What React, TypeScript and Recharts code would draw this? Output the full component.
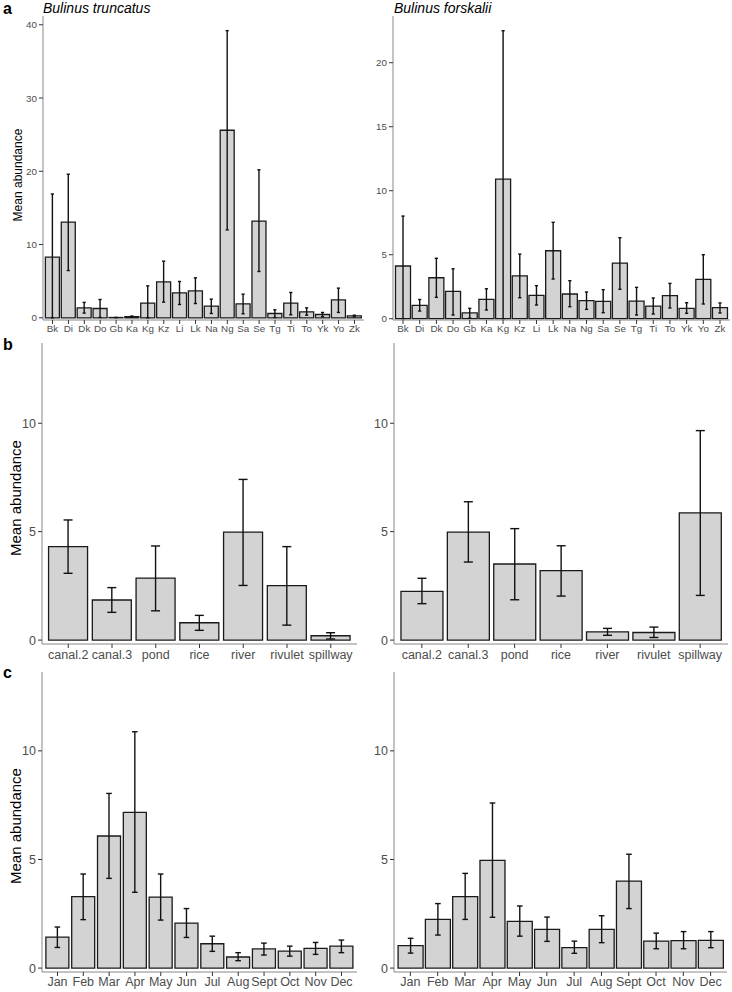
import { Bar, BarChart, ErrorBar, XAxis, YAxis } from "recharts"

// panel a: sampling sites
const sites = ["Bk", "Di", "Dk", "Do", "Gb", "Ka", "Kg", "Kz", "Li", "Lk", "Na", "Ng", "Sa", "Se", "Tg", "Ti", "To", "Yk", "Yo", "Zk"]
const truncSiteMean = [8.28, 13.05, 1.36, 1.27, 0.04, 0.16, 2.0, 4.9, 3.41, 3.68, 1.59, 25.6, 1.91, 13.2, 0.59, 2.0, 0.82, 0.45, 2.45, 0.27]
const truncSiteLow = [0, 6.45, 0.64, 0.05, 0.04, 0.1, 0, 2.14, 1.82, 1.95, 0.59, 12.0, 0.55, 6.32, 0.05, 0.41, 0.36, 0.14, 0.73, 0.14]
const truncSiteHigh = [16.9, 19.6, 2.1, 2.5, 0.04, 0.25, 4.36, 7.73, 4.96, 5.46, 2.55, 39.2, 3.23, 20.2, 1.09, 3.46, 1.36, 0.73, 4.05, 0.36]
const forskSiteMean = [4.12, 1.05, 3.2, 2.14, 0.45, 1.51, 10.9, 3.34, 1.83, 5.31, 1.93, 1.41, 1.36, 4.35, 1.38, 0.99, 1.8, 0.81, 3.08, 0.86]
const forskSiteLow = [0, 0.6, 1.67, 0.29, 0.05, 0.68, 0, 1.64, 1.07, 3.1, 0.94, 0.73, 0.47, 2.3, 0.29, 0.37, 0.84, 0.42, 1.15, 0.45]
const forskSiteHigh = [8.02, 1.5, 4.72, 3.9, 0.81, 2.34, 22.5, 5.05, 2.58, 7.53, 2.97, 2.09, 2.27, 6.33, 2.45, 1.62, 2.76, 1.25, 5.0, 1.23]

// panel b: habitat types
const habitats = ["canal.2", "canal.3", "pond", "rice", "river", "rivulet", "spillway"]
const truncHabMean = [4.31, 1.85, 2.86, 0.8, 4.98, 2.51, 0.2]
const truncHabLow = [3.08, 1.28, 1.35, 0.45, 2.52, 0.69, 0.05]
const truncHabHigh = [5.54, 2.42, 4.34, 1.14, 7.41, 4.31, 0.34]
const forskHabMean = [2.25, 4.98, 3.51, 3.2, 0.38, 0.35, 5.87]
const forskHabLow = [1.68, 3.6, 1.86, 2.03, 0.22, 0.12, 2.06]
const forskHabHigh = [2.85, 6.38, 5.14, 4.35, 0.54, 0.6, 9.66]

// panel c: months
const months = ["Jan", "Feb", "Mar", "Apr", "May", "Jun", "Jul", "Aug", "Sept", "Oct", "Nov", "Dec"]
const truncMonMean = [1.43, 3.29, 6.08, 7.17, 3.27, 2.07, 1.12, 0.51, 0.88, 0.78, 0.91, 1.01]
const truncMonLow = [0.95, 2.23, 4.13, 3.49, 2.21, 1.41, 0.77, 0.34, 0.6, 0.55, 0.63, 0.71]
const truncMonHigh = [1.89, 4.33, 8.04, 10.88, 4.33, 2.74, 1.47, 0.71, 1.15, 1.01, 1.18, 1.29]
const forskMonMean = [1.03, 2.24, 3.29, 4.96, 2.15, 1.78, 0.94, 1.78, 4.0, 1.24, 1.26, 1.28]
const forskMonLow = [0.69, 1.52, 2.24, 2.34, 1.47, 1.23, 0.68, 1.17, 2.74, 0.89, 0.89, 0.94]
const forskMonHigh = [1.37, 2.97, 4.36, 7.6, 2.86, 2.35, 1.24, 2.41, 5.24, 1.61, 1.68, 1.68]

const ticksA1 = [0, 10, 20, 30, 40]
const ticksA2 = [0, 5, 10, 15, 20]
const ticksBC = [0, 5, 10]

const FONT = "'Liberation Sans', Arial, sans-serif"
const BORDER = "#888888"

type Box = { l: number; t: number; r: number; b: number }

function Panel(props: {
  cats: string[]
  mean: number[]
  low: number[]
  high: number[]
  box: Box
  domain: [number, number]
  ticks: number[]
  yAxisW: number
  xAxisH: number
  fontSize: number
  cap: number
  tickMargin: number
}) {
  const { cats, mean, low, high, box, domain, ticks, yAxisW, xAxisH, fontSize, cap, tickMargin } = props
  const data = cats.map((name, i) => ({
    name,
    mean: mean[i],
    err: [mean[i] - low[i], high[i] - mean[i]],
  }))
  const mTop = 2
  const mRight = 2
  const plotW = box.r - box.l
  // ggplot discrete axis expansion (0.6 units each side)
  const pad = (plotW * 0.1) / (cats.length + 0.2)
  const tickStyle = { fontSize, fill: "#4d4d4d", fontFamily: FONT }
  return (
    <div
      style={{
        position: "absolute",
        left: box.l - yAxisW,
        top: box.t - mTop,
      }}
    >
      <BarChart
        width={plotW + yAxisW + mRight}
        height={box.b - box.t + mTop + xAxisH}
        data={data}
        margin={{ top: mTop, right: mRight, left: 0, bottom: 0 }}
        barCategoryGap="5%"
      >
        <XAxis
          dataKey="name"
          interval={0}
          height={xAxisH}
          padding={{ left: pad, right: pad }}
          tick={tickStyle}
          tickSize={4}
          tickMargin={tickMargin}
          tickLine={{ stroke: "#333333" }}
          axisLine={{ stroke: BORDER }}
        />
        <XAxis
          xAxisId="top"
          orientation="top"
          dataKey="name"
          height={0}
          tick={false}
          tickLine={false}
          axisLine={{ stroke: BORDER }}
        />
        <YAxis
          type="number"
          domain={domain}
          ticks={ticks}
          allowDataOverflow
          width={yAxisW}
          tick={tickStyle}
          tickSize={4}
          tickMargin={2}
          tickLine={{ stroke: "#333333" }}
          axisLine={{ stroke: BORDER }}
        />
        <YAxis
          yAxisId="right"
          orientation="right"
          type="number"
          domain={domain}
          allowDataOverflow
          width={0}
          tick={false}
          tickLine={false}
          axisLine={{ stroke: BORDER }}
        />
        <Bar dataKey="mean" fill="#d3d3d3" stroke="#1a1a1a" strokeWidth={1.3} isAnimationActive={false}>
          <ErrorBar dataKey="err" width={cap} stroke="#111111" strokeWidth={1.4} isAnimationActive={false} />
        </Bar>
      </BarChart>
    </div>
  )
}

function YTitle({ cx, cy, size }: { cx: number; cy: number; size: number }) {
  return (
    <div
      style={{
        position: "absolute",
        left: cx,
        top: cy,
        width: 200,
        height: size,
        lineHeight: `${size}px`,
        fontSize: size,
        fontFamily: FONT,
        color: "#000",
        textAlign: "center",
        whiteSpace: "nowrap",
        transform: "translate(-50%, -50%) rotate(-90deg)",
      }}
    >
      Mean abundance
    </div>
  )
}

function Tag({ x, y, text, size, italic, bold }: { x: number; y: number; text: string; size: number; italic?: boolean; bold?: boolean }) {
  return (
    <div
      style={{
        position: "absolute",
        left: x,
        top: y,
        fontSize: size,
        lineHeight: `${size + 2}px`,
        fontFamily: FONT,
        fontStyle: italic ? "italic" : "normal",
        fontWeight: bold ? 700 : 400,
        whiteSpace: "nowrap",
        color: "#000",
      }}
    >
      {text}
    </div>
  )
}

export default function App() {
  const small = 9.8
  const big = 12.5
  return (
    <div style={{ position: "absolute", left: 0, top: 0, width: 732, height: 992, background: "#fff", overflow: "hidden" }}>
      <Tag x={3} y={0} text="a" size={16} bold />
      <Tag x={3} y={336} text="b" size={16} bold />
      <Tag x={3} y={664} text="c" size={16} bold />
      <Tag x={43} y={0} text="Bulinus truncatus" size={14} italic />
      <Tag x={394} y={0} text="Bulinus forskalii" size={14} italic />

      <YTitle cx={17.5} cy={175} size={12} />
      <YTitle cx={14.8} cy={498} size={15} />
      <YTitle cx={14.8} cy={826} size={15} />

      <Panel cats={sites} mean={truncSiteMean} low={truncSiteLow} high={truncSiteHigh}
        box={{ l: 43, t: 16, r: 364, b: 320 }} domain={[-0.3, 41.2]} ticks={ticksA1}
        yAxisW={43} xAxisH={15} fontSize={small} cap={1.6} tickMargin={1} />
      <Panel cats={sites} mean={forskSiteMean} low={forskSiteLow} high={forskSiteHigh}
        box={{ l: 393, t: 16, r: 730, b: 320 }} domain={[-0.1, 23.65]} ticks={ticksA2}
        yAxisW={28} xAxisH={15} fontSize={small} cap={1.6} tickMargin={1} />

      <Panel cats={habitats} mean={truncHabMean} low={truncHabLow} high={truncHabHigh}
        box={{ l: 42, t: 343, r: 357, b: 644 }} domain={[-0.18, 13.7]} ticks={ticksBC}
        yAxisW={42} xAxisH={22} fontSize={big} cap={4.5} tickMargin={2} />
      <Panel cats={habitats} mean={forskHabMean} low={forskHabLow} high={forskHabHigh}
        box={{ l: 394, t: 343, r: 728, b: 644 }} domain={[-0.18, 13.7]} ticks={ticksBC}
        yAxisW={28} xAxisH={22} fontSize={big} cap={4.5} tickMargin={2} />

      <Panel cats={months} mean={truncMonMean} low={truncMonLow} high={truncMonHigh}
        box={{ l: 42, t: 672, r: 357, b: 972 }} domain={[-0.18, 13.63]} ticks={ticksBC}
        yAxisW={42} xAxisH={20} fontSize={big} cap={2.8} tickMargin={1} />
      <Panel cats={months} mean={forskMonMean} low={forskMonLow} high={forskMonHigh}
        box={{ l: 394, t: 672, r: 727, b: 972 }} domain={[-0.18, 13.63]} ticks={ticksBC}
        yAxisW={28} xAxisH={20} fontSize={big} cap={2.8} tickMargin={1} />
    </div>
  )
}
